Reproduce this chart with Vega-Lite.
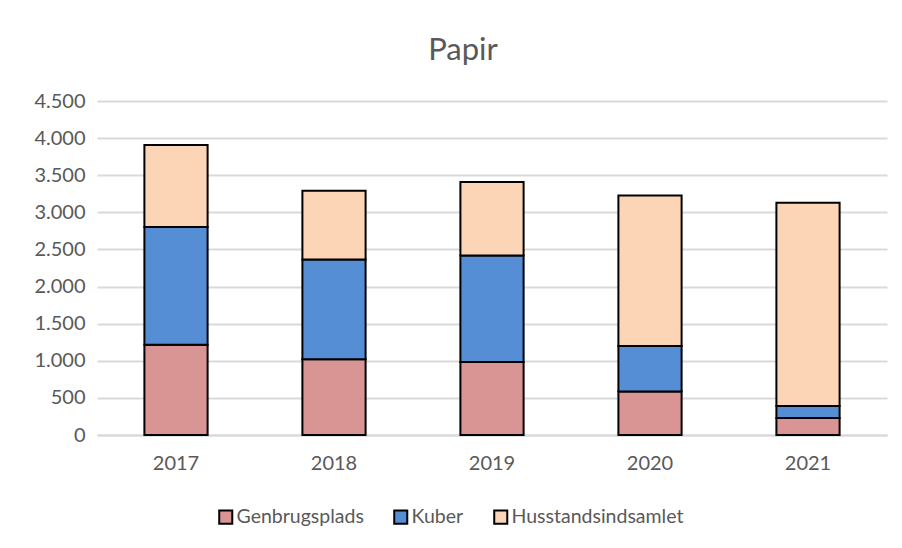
{
  "$schema": "https://vega.github.io/schema/vega-lite/v6.json",
  "width": 790,
  "height": 334,
  "autosize": {"type": "none"},
  "padding": {"left": 97, "top": 101, "right": 15, "bottom": 113},
  "background": "white",
  "config": {
    "font": "Lato",
    "view": {"stroke": null},
    "locale": {"number": {"decimal": ",", "thousands": ".", "grouping": [3], "currency": ["", " kr."]}}
  },
  "title": {
    "text": "Papir",
    "font": "Lato",
    "fontSize": 31,
    "fontWeight": "normal",
    "color": "#595959",
    "anchor": "middle",
    "dx": -29,
    "offset": 24
  },
  "data": {
    "values": [
      {"year": "2017", "type": "Genbrugsplads", "value": 1217},
      {"year": "2017", "type": "Kuber", "value": 1587},
      {"year": "2017", "type": "Husstandsindsamlet", "value": 1103},
      {"year": "2018", "type": "Genbrugsplads", "value": 1021},
      {"year": "2018", "type": "Kuber", "value": 1345},
      {"year": "2018", "type": "Husstandsindsamlet", "value": 925},
      {"year": "2019", "type": "Genbrugsplads", "value": 985},
      {"year": "2019", "type": "Kuber", "value": 1435},
      {"year": "2019", "type": "Husstandsindsamlet", "value": 987},
      {"year": "2020", "type": "Genbrugsplads", "value": 587},
      {"year": "2020", "type": "Kuber", "value": 613},
      {"year": "2020", "type": "Husstandsindsamlet", "value": 2028},
      {"year": "2021", "type": "Genbrugsplads", "value": 230},
      {"year": "2021", "type": "Kuber", "value": 161},
      {"year": "2021", "type": "Husstandsindsamlet", "value": 2739}
    ]
  },
  "transform": [
    {"calculate": "indexof(['Genbrugsplads','Kuber','Husstandsindsamlet'], datum.type)", "as": "ord"}
  ],
  "mark": {"type": "bar", "stroke": "black", "strokeWidth": 2},
  "encoding": {
    "x": {
      "field": "year",
      "type": "nominal",
      "title": null,
      "scale": {"paddingInner": 0.6, "paddingOuter": 0.3},
      "axis": {
        "labelAngle": 0,
        "labelFontSize": 20,
        "labelColor": "#595959",
        "labelPadding": 18,
        "ticks": false,
        "domain": true,
        "domainColor": "#d9d9d9",
        "domainWidth": 2
      }
    },
    "y": {
      "field": "value",
      "type": "quantitative",
      "stack": "zero",
      "title": null,
      "scale": {"domain": [0, 4500], "nice": false},
      "axis": {
        "values": [0, 500, 1000, 1500, 2000, 2500, 3000, 3500, 4000, 4500],
        "format": ",d",
        "labelFontSize": 20,
        "labelColor": "#595959",
        "labelPadding": 12,
        "ticks": false,
        "domain": false,
        "gridColor": "#d9d9d9",
        "gridWidth": 2
      }
    },
    "color": {
      "field": "type",
      "type": "nominal",
      "sort": ["Genbrugsplads", "Kuber", "Husstandsindsamlet"],
      "scale": {
        "domain": ["Genbrugsplads", "Kuber", "Husstandsindsamlet"],
        "range": ["#d99594", "#558ed5", "#fbd5b5"]
      },
      "legend": {
        "title": null,
        "orient": "none",
        "direction": "horizontal",
        "legendX": 119,
        "legendY": 406,
        "symbolType": "square",
        "symbolSize": 170,
        "symbolStrokeColor": "black",
        "symbolStrokeWidth": 2,
        "symbolOpacity": 1,
        "labelFontSize": 19.5,
        "labelColor": "#595959",
        "labelOffset": 1,
        "labelLimit": 400,
        "columnPadding": 26
      }
    },
    "order": {"field": "ord", "type": "quantitative"}
  }
}
